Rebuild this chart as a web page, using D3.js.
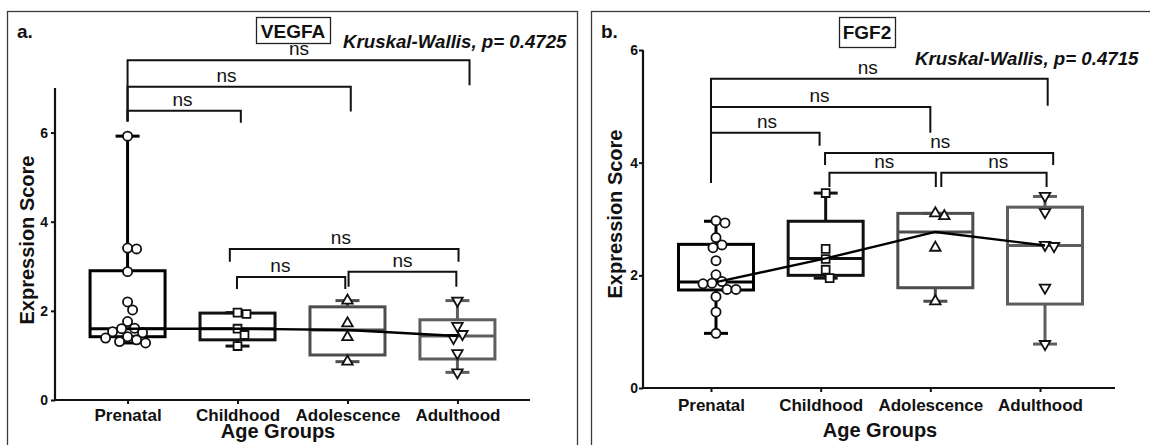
<!DOCTYPE html>
<html>
<head>
<meta charset="utf-8">
<script src="https://cdn.jsdelivr.net/npm/d3@7"></script>
<style>
  body { margin: 0; background: #fff; }
  svg { display: block; font-family: 'Liberation Sans', Arial, Helvetica, sans-serif; }
</style>
</head>
<body>
<svg id="chart" width="1150" height="445"></svg>
<script>
const ageGroups = ['Prenatal', 'Childhood', 'Adolescence', 'Adulthood'];
const yTicks = [0, 2, 4, 6];

// VEGFA (panel a)
const vegfaPoints = [
  [5.92, 3.41, 3.39, 2.88, 2.20, 2.02, 1.76, 1.61, 1.60, 1.53, 1.51, 1.42, 1.39, 1.35, 1.31, 1.28],
  [1.96, 1.93, 1.60, 1.46, 1.21],
  [2.23, 1.72, 1.41, 0.86],
  [2.23, 1.66, 1.48, 1.39, 1.05, 0.62],
];
const vegfaMin = [1.28, 1.21, 0.86, 0.62];
const vegfaQ1 = [1.42, 1.35, 1.01, 0.92];
const vegfaMedian = [1.60, 1.60, 1.57, 1.435];
const vegfaQ3 = [2.90, 1.95, 2.09, 1.80];
const vegfaMax = [5.92, 1.96, 2.23, 2.23];
// [from group, to group, bar height, left leg end, right leg end, label at] (group index, score units)
const vegfaBrackets = [
  [0, 1.03, 6.49, 6.25, 6.22, 0.50],
  [0, 2.03, 7.03, 6.25, 6.47, 0.90],
  [0, 3.11, 7.62, 6.25, 7.06, 1.56],
  [0.93, 3.01, 3.39, 3.10, 3.10, 1.94],
  [0.995, 1.98, 2.76, 2.49, 2.49, 1.39],
  [2.01, 2.99, 2.88, 2.54, 2.54, 2.50],
];

// FGF2 (panel b)
const fgf2Points = [
  [2.97, 2.93, 2.67, 2.54, 2.49, 2.26, 2.01, 1.89, 1.86, 1.85, 1.75, 1.75, 1.62, 1.35, 0.97],
  [3.46, 2.47, 2.29, 2.10, 1.95],
  [3.10, 3.05, 2.49, 1.54],
  [3.41, 3.12, 2.54, 2.52, 1.78, 0.78],
];
const fgf2Min = [0.97, 1.95, 1.54, 0.78];
const fgf2Q1 = [1.74, 2.00, 1.78, 1.49];
const fgf2Median = [1.88, 2.30, 2.77, 2.53];
const fgf2Q3 = [2.55, 2.96, 3.10, 3.21];
const fgf2Max = [2.96, 3.46, 3.10, 3.40];
const fgf2Brackets = [
  [0, 0.99, 4.53, 3.64, 4.30, 0.51],
  [0, 2.00, 4.99, 3.64, 4.53, 0.99],
  [0, 3.07, 5.49, 3.64, 5.01, 1.43],
  [1.04, 3.12, 4.17, 3.96, 3.96, 2.09],
  [1.08, 2.05, 3.82, 3.57, 3.57, 1.58],
  [2.10, 3.06, 3.82, 3.57, 3.57, 2.62],
];

const boxColors = ['#000', '#111', '#4d4d4d', '#5e5e5e'];
const symbols = [d3.symbolCircle, d3.symbolSquare, d3.symbolTriangle, d3.symbolTriangle];
const symbolSizes = [66, 62, 48, 48];

const panels = [
  {
    tag: 'a.', gene: 'VEGFA', test: 'Kruskal-Wallis, p= 0.4725',
    points: vegfaPoints, min: vegfaMin, q1: vegfaQ1, median: vegfaMedian, q3: vegfaQ3, max: vegfaMax,
    brackets: vegfaBrackets, yMax: 7,
    frame: [7.5, 11.5, 570, 460],
    x0: 55, x1: 530, pad: 0.66, axisEnd: 530, top: 88, bottom: 400, boxShift: 0,
    tickGap: 9, yLabelPad: 7,
    tagX: 17, geneBox: [256, 17, 74, 26], geneY: 38, testX: 343, testY: 48,
    xTitle: [278, 438], yTitle: [34, 240],
  },
  {
    tag: 'b.', gene: 'FGF2', test: 'Kruskal-Wallis, p= 0.4715',
    points: fgf2Points, min: fgf2Min, q1: fgf2Q1, median: fgf2Median, q3: fgf2Q3, max: fgf2Max,
    brackets: fgf2Brackets, yMax: 6,
    frame: [591.5, 11.5, 620, 460],
    x0: 643, x1: 1108, pad: 0.62, axisEnd: 1115, top: 50, bottom: 388, boxShift: 5,
    tickGap: 11, yLabelPad: 5,
    tagX: 601, geneBox: [839, 17, 56, 30], geneY: 39, testX: 915, testY: 65,
    xTitle: [880, 437], yTitle: [622, 214],
  },
];

function swarm(values, y, cx, minDist) {
  const placed = [];
  values.forEach((v) => {
    const py = y(v);
    let off = 0;
    for (let k = 0; k < 300; k += 1) {
      const cand = k === 0 ? 0 : (k % 2 ? 1 : -1) * Math.ceil(k / 2);
      if (placed.every(q => Math.hypot(q.x - (cx + cand), q.y - py) >= minDist)) {
        off = cand;
        break;
      }
    }
    placed.push({ value: v, x: cx + off, y: py });
  });
  return placed;
}

function drawPanel(svg, p) {
  const g = svg.append('g');

  g.append('rect')
    .attr('x', p.frame[0]).attr('y', p.frame[1])
    .attr('width', p.frame[2]).attr('height', p.frame[3])
    .attr('fill', 'none').attr('stroke', '#3a3a3a').attr('stroke-width', 1.3);

  const x = d3.scalePoint().domain(ageGroups).range([p.x0, p.x1]).padding(p.pad);
  const xi = d3.scaleLinear().domain([0, 3]).range([x(ageGroups[0]), x(ageGroups[3])]);
  const y = d3.scaleLinear().domain([0, p.yMax]).range([p.bottom, p.top]);

  // axes
  const xAxis = g.append('g')
    .attr('transform', `translate(0,${p.bottom})`)
    .call(d3.axisBottom(x).tickSize(4).tickSizeOuter(0));
  xAxis.select('.domain').remove();
  xAxis.selectAll('line').attr('stroke', '#111').attr('stroke-width', 2);
  xAxis.selectAll('text')
    .attr('y', p.tickGap).attr('dy', '0.71em')
    .attr('fill', '#111')
    .style('font-size', '17px').style('font-weight', 'bold')
    .style('font-family', "'Liberation Sans', Arial, sans-serif");

  const yAxis = g.append('g')
    .attr('transform', `translate(${p.x0},0)`)
    .call(d3.axisLeft(y).tickValues(yTicks).tickFormat(d3.format('d')).tickSize(4).tickSizeOuter(0));
  yAxis.select('.domain').remove();
  yAxis.selectAll('line').attr('stroke', '#111').attr('stroke-width', 2);
  yAxis.selectAll('text')
    .attr('x', -p.yLabelPad)
    .attr('fill', '#111')
    .style('font-size', '14px').style('font-weight', 'bold')
    .style('font-family', "'Liberation Sans', Arial, sans-serif");

  g.append('line')
    .attr('x1', p.x0 - 1).attr('x2', p.axisEnd)
    .attr('y1', p.bottom).attr('y2', p.bottom)
    .attr('stroke', '#111').attr('stroke-width', 2.2);
  g.append('line')
    .attr('x1', p.x0).attr('x2', p.x0)
    .attr('y1', p.bottom).attr('y2', y(p.yMax))
    .attr('stroke', '#111').attr('stroke-width', 2.2);

  g.append('text')
    .attr('x', p.xTitle[0]).attr('y', p.xTitle[1])
    .attr('text-anchor', 'middle')
    .style('font-size', '20px').style('font-weight', 'bold')
    .attr('fill', '#111')
    .text('Age Groups');
  g.append('text')
    .attr('transform', `translate(${p.yTitle[0]},${p.yTitle[1]}) rotate(-90)`)
    .attr('text-anchor', 'middle')
    .style('font-size', '20px').style('font-weight', 'bold')
    .attr('fill', '#111')
    .text('Expression Score');

  // boxes and whiskers
  const boxWidth = 75;
  const capWidth = 24;
  ageGroups.forEach((grp, i) => {
    const cx = x(grp) + p.boxShift;
    const col = boxColors[i];
    const bg = g.append('g').attr('stroke', col).attr('stroke-width', 3).attr('fill', 'none');
    bg.append('line').attr('x1', cx).attr('x2', cx).attr('y1', y(p.q3[i])).attr('y2', y(p.max[i]));
    bg.append('line').attr('x1', cx).attr('x2', cx).attr('y1', y(p.q1[i])).attr('y2', y(p.min[i]));
    bg.append('line').attr('x1', cx - capWidth / 2).attr('x2', cx + capWidth / 2)
      .attr('y1', y(p.max[i])).attr('y2', y(p.max[i]));
    bg.append('line').attr('x1', cx - capWidth / 2).attr('x2', cx + capWidth / 2)
      .attr('y1', y(p.min[i])).attr('y2', y(p.min[i]));
    bg.append('rect')
      .attr('x', cx - boxWidth / 2).attr('y', y(p.q3[i]))
      .attr('width', boxWidth).attr('height', y(p.q1[i]) - y(p.q3[i]));
    bg.append('line').attr('x1', cx - boxWidth / 2).attr('x2', cx + boxWidth / 2)
      .attr('y1', y(p.median[i])).attr('y2', y(p.median[i]));

    const pts = swarm(p.points[i], y, cx, 9);
    g.append('g')
      .selectAll('path')
      .data(pts)
      .enter()
      .append('path')
      .attr('d', d3.symbol().type(symbols[i]).size(symbolSizes[i]))
      .attr('transform', d => `translate(${d.x},${d.y})${i === 3 ? ' rotate(180)' : ''}`)
      .attr('fill', '#fff')
      .attr('stroke', '#111')
      .attr('stroke-width', 1.8);
  });

  // medians joined
  g.append('path')
    .datum(ageGroups.map((grp, i) => [x(grp) + p.boxShift, y(p.median[i])]))
    .attr('d', d3.line())
    .attr('fill', 'none')
    .attr('stroke', '#000')
    .attr('stroke-width', 2.4);

  // pairwise comparisons
  const br = g.append('g');
  p.brackets.forEach((b) => {
    br.append('path')
      .attr('d', `M${xi(b[0])},${y(b[3])}V${y(b[2])}H${xi(b[1])}V${y(b[4])}`)
      .attr('fill', 'none')
      .attr('stroke', '#111')
      .attr('stroke-width', 2);
    br.append('text')
      .attr('x', xi(b[5])).attr('y', y(b[2]) - 5)
      .attr('text-anchor', 'middle')
      .attr('fill', '#111')
      .style('font-size', '19px')
      .text('ns');
  });

  // headings
  g.append('text')
    .attr('x', p.tagX).attr('y', 38)
    .style('font-size', '19px').style('font-weight', 'bold')
    .attr('fill', '#111')
    .text(p.tag);
  g.append('rect')
    .attr('x', p.geneBox[0] + 0.5).attr('y', p.geneBox[1] + 0.5)
    .attr('width', p.geneBox[2]).attr('height', p.geneBox[3])
    .attr('fill', '#fff').attr('stroke', '#222').attr('stroke-width', 1.3);
  g.append('text')
    .attr('x', p.geneBox[0] + p.geneBox[2] / 2).attr('y', p.geneY)
    .attr('text-anchor', 'middle')
    .style('font-size', '19px').style('font-weight', 'bold')
    .attr('fill', '#111')
    .text(p.gene);
  g.append('text')
    .attr('x', p.testX).attr('y', p.testY)
    .style('font-size', '18.7px').style('font-weight', 'bold').style('font-style', 'italic')
    .attr('fill', '#111')
    .text(p.test);
}

const svg = d3.select('#chart');
panels.forEach(p => drawPanel(svg, p));
</script>
</body>
</html>
